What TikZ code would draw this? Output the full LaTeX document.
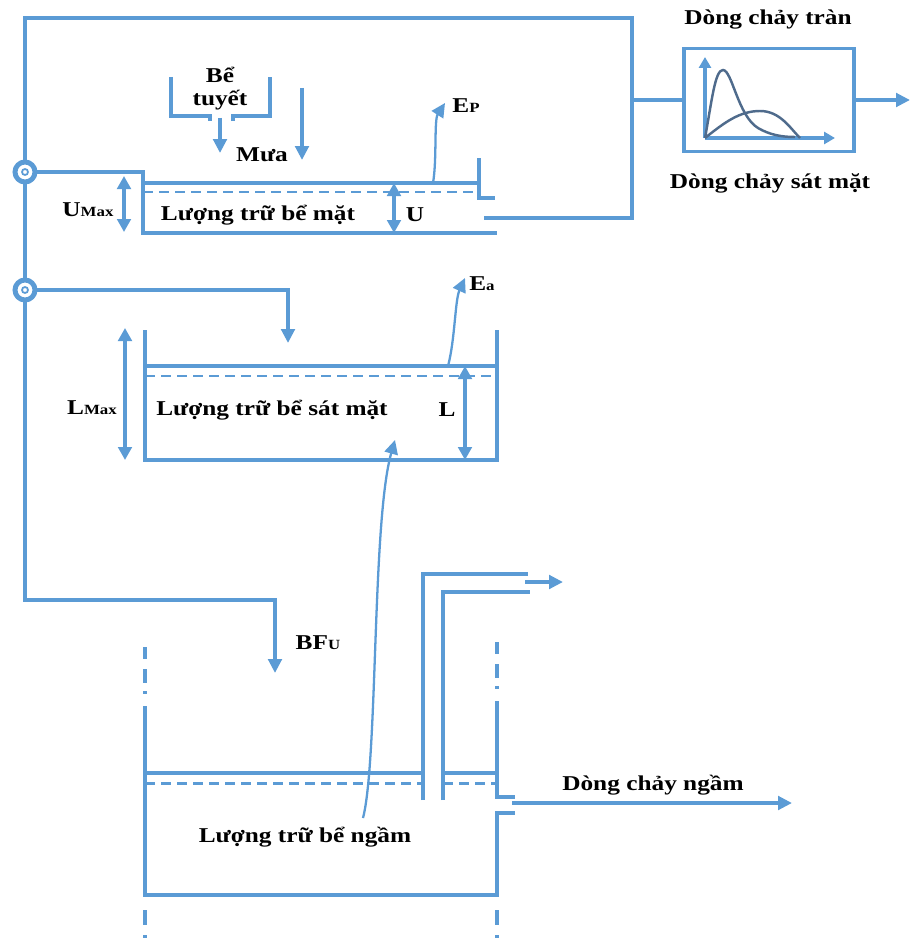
\documentclass[tikz,border=0pt]{standalone}
\usepackage{fontspec}
\setmainfont{Liberation Serif}[FakeStretch=1.2]
\usepackage{xcolor}
\usepackage{tikz}
\usetikzlibrary{arrows.meta}
\definecolor{water}{HTML}{5B9BD5}
\definecolor{graph}{HTML}{4F6B8C}
\newcommand{\subtag}[1]{{\fontsize{8pt}{8pt}\selectfont #1}}
\tikzset{
  wall/.style={draw=water,line width=2pt},
  level/.style={draw=water,line width=1.7pt,dash pattern=on 2mm off 1.2mm},
  broken/.style={draw=water,line width=2pt,
    dash pattern=on 2.4mm off 2mm on 2.8mm off 1.6mm on 0.6mm off 2.4mm},
  below/.style={draw=water,line width=2pt,
    dash pattern=on 0mm off 3mm on 3mm off 2mm on 3mm off 2mm},
  flow/.style={draw=water,line width=2pt,-{Triangle[length=2.8mm,width=2.7mm]}},
  thinflow/.style={draw=water,line width=1.3pt,-{Triangle[length=2.8mm,width=2.7mm]}},
  gauge/.style={draw=water,line width=2pt,
    {Triangle[length=2.6mm,width=2.7mm]}-{Triangle[length=2.6mm,width=2.7mm]}},
  axisflow/.style={draw=water,line width=1.8pt,-{Triangle[length=2.2mm,width=2.4mm]}},
  hydro/.style={rectangle,draw=water,line width=2pt,minimum width=34mm,
    minimum height=20.6mm,inner sep=0pt},
  junction/.style={circle,draw=water,line width=2.8pt,fill=white,
    minimum size=4mm,inner sep=0pt},
  lbl/.style={font=\bfseries\fontsize{12pt}{13pt}\selectfont,inner sep=1pt}
}
\begin{document}
\begin{tikzpicture}[x=0.2mm,y=-0.2mm]
\useasboundingbox (0,0) rectangle (910,938);

\draw[flow] (484,218) -- (632,218) -- (632,18) -- (25,18) -- (25,600)
  -- (275,600) -- (275,673);
\node[hydro] (hydro) at (769,100) {};
\coordinate (outE) at (910,100);
\draw[wall] (632,100) -- (hydro.west);
\draw[flow] (hydro.east) -- (outE);
\draw[axisflow] (705,138) -- (835,138);
\draw[axisflow] (705,138) -- (705,57);
\draw[graph,line width=1.4pt] (705,138) .. controls (712,100) and (715,70) .. (723,70)
  .. controls (732,70) and (738,116) .. (758,128) .. controls (770,135) and (782,137) .. (795,137);
\draw[graph,line width=1.4pt] (705,138) .. controls (725,122) and (740,111) .. (760,111)
  .. controls (780,111) and (790,128) .. (800,138);
\node[lbl] (tran) at (768,20) {Dòng chảy tràn};
\node[lbl] (satmat) at (770,183) {Dòng chảy sát mặt};

\node[junction] (j1) at (25,172) {};
\node[junction] (j2) at (25,290) {};
\draw[water,line width=1pt] (j1) circle[radius=0.6mm];
\draw[water,line width=1pt] (j2) circle[radius=0.6mm];

\draw[wall] (j1.east) -- (143,172) -- (143,233) -- (497,233);
\draw[wall] (143,183) -- (479,183);
\draw[level] (143,192) -- (479,192);
\draw[wall] (479,158) -- (479,198) -- (495,198);
\draw[gauge] (124,176) -- (124,232);
\draw[gauge] (394,183) -- (394,233);
\draw[wall] (171,77) -- (171,116) -- (210,116) -- (210,121);
\draw[wall] (233,121) -- (233,116) -- (270,116) -- (270,77);
\draw[flow] (220,118) -- (220,153);
\draw[flow] (302,88) -- (302,160);
\draw[thinflow] (433,183) .. controls (437,160) and (434,120) .. (445,103);
\node[lbl,align=center] (snow) at (220,89) {Bể\\tuyết};
\node[lbl] (mua) at (262,155) {Mưa};
\node[lbl] (ep) at (466,106) {E\subtag{P}};
\node[lbl] (umax) at (88,210) {U\subtag{Max}};
\node[lbl] (u) at (415,215) {U};
\node[lbl] (t1) at (258,215) {Lượng trữ bể mặt};

\draw[flow] (j2.east) -- (288,290) -- (288,343);
\draw[wall] (145,330) -- (145,460) -- (497,460) -- (497,330);
\draw[wall] (145,366) -- (497,366);
\draw[level] (145,376) -- (497,376);
\draw[gauge] (125,328) -- (125,460);
\draw[gauge] (465,366) -- (465,460);
\draw[thinflow] (448,366) .. controls (455,340) and (455,300) .. (465,278);
\node[lbl] (lmax) at (92,408) {L\subtag{Max}};
\node[lbl] (l) at (447,410) {L};
\node[lbl] (t2) at (272,410) {Lượng trữ bể sát mặt};
\node[lbl] (ea) at (482,284) {E\subtag{a}};

\draw[broken] (145,647) -- (145,710);
\draw[broken] (497,642) -- (497,703);
\draw[wall] (145,710) -- (145,895) -- (497,895) -- (497,813) -- (515,813);
\draw[wall] (497,703) -- (497,797) -- (515,797);
\draw[below] (145,895) -- (145,938);
\draw[below] (497,895) -- (497,938);
\draw[wall] (145,773) -- (423,773);
\draw[wall] (443,773) -- (495,773);
\draw[level] (145,783) -- (423,783);
\draw[level] (443,783) -- (495,783);
\draw[wall] (423,800) -- (423,574) -- (528,574);
\draw[wall] (443,800) -- (443,592) -- (530,592);
\draw[flow] (525,582) -- (563,582);
\coordinate (outS) at (792,803);
\draw[flow] (512,803) -- (outS);
\draw[thinflow] (363,818) .. controls (378,760) and (372,520) .. (395,440);
\node[lbl] (bfu) at (318,643) {BF\subtag{U}};
\node[lbl] (t3) at (305,837) {Lượng trữ bể ngầm};
\node[lbl] (ngam) at (653,785) {Dòng chảy ngầm};
\end{tikzpicture}
\end{document}
